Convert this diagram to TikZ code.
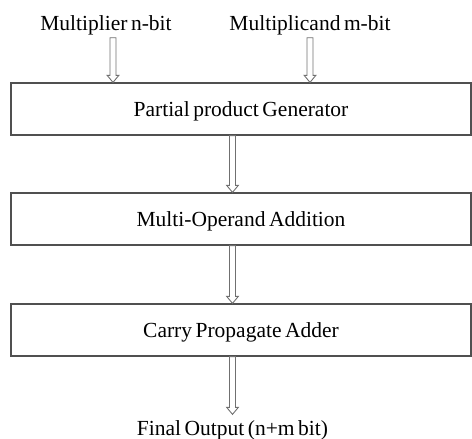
\documentclass[tikz,border=0pt]{standalone}
\usepackage{fontspec}
\setmainfont[WordSpace=0.65]{Liberation Serif}
\usetikzlibrary{calc}
\definecolor{boxgray}{HTML}{505050}
\definecolor{arrgray}{HTML}{707070}
\newcommand\diagfont{\rmfamily\fontsize{21.5bp}{26bp}\selectfont}
\tikzset{
  lbl/.style={inner sep=0pt, anchor=base, font=\diagfont},
  stage/.style={draw=boxgray, line width=1.2bp, minimum width=460bp, minimum height=52bp,
    inner sep=0pt, text height=14.5bp, text depth=0pt, font=\diagfont},
  harrow/.style={draw=arrgray, fill=white, line width=0.9bp, line join=miter}
}
\newcommand\hollowarrow[2]{%
  \draw[harrow] let \p1=(#1), \p2=(#2) in
    (\x1-3bp,\y1) -- (\x1-3bp,\y2+7bp) -- (\x1-5.8bp,\y2+7bp) -- (\x1,\y2)
    -- (\x1+5.8bp,\y2+7bp) -- (\x1+3bp,\y2+7bp) -- (\x1+3bp,\y1) -- cycle;}
\begin{document}
\begin{tikzpicture}[x=1bp,y=-1bp]
  \useasboundingbox (0,0) rectangle (472,439);
  \node[lbl] (m1) at (106,31) {Multiplier n-bit};
  \node[lbl] (m2) at (310,31) {Multiplicand m-bit};
  \node[stage] (b1) at (241,109) {Partial product Generator};
  \node[stage] (b2) at (241,219) {Multi-Operand Addition};
  \node[stage] (b3) at (241,330) {Carry Propagate Adder};
  \node[lbl] (out) at (232.5,435.5) {Final Output (n+m bit)};
  \coordinate (t1) at ($(m1.south)+(7,2)$);
  \coordinate (t2) at ($(m2.south)+(0,2)$);
  \hollowarrow{t1}{b1.north -| t1}
  \hollowarrow{t2}{b1.north -| t2}
  \hollowarrow{b1.south -| out.north}{b2.north -| out.north}
  \hollowarrow{b2.south -| out.north}{b3.north -| out.north}
  \coordinate (oe) at ($(out.north)+(0,-6)$);
  \hollowarrow{b3.south -| out.north}{oe}
\end{tikzpicture}
\end{document}
